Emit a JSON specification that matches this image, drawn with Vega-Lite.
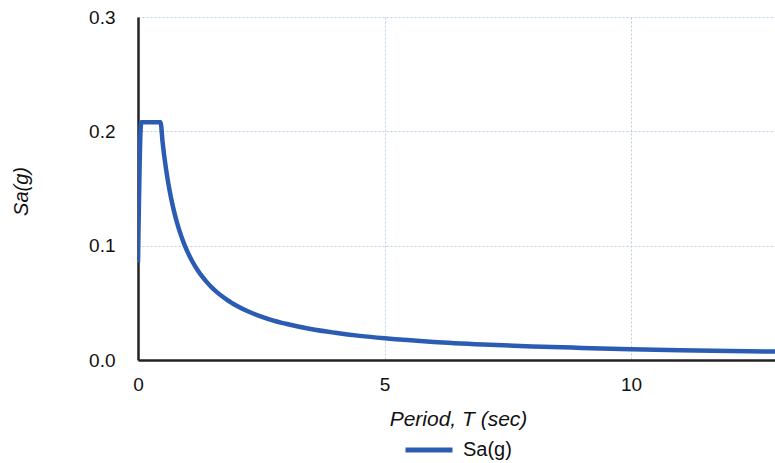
{
  "$schema": "https://vega.github.io/schema/vega-lite/v6.json",
  "width": 637,
  "height": 343,
  "autosize": "none",
  "padding": {"left": 138, "top": 17, "right": 0, "bottom": 103},
  "background": "white",
  "config": {
    "view": {"stroke": null},
    "font": "Liberation Sans"
  },
  "data": {
    "values": [
      {"T": 0.0, "Sa": 0.085},
      {"T": 0.065, "Sa": 0.208},
      {"T": 0.457, "Sa": 0.208},
      {"T": 0.5, "Sa": 0.19},
      {"T": 0.55, "Sa": 0.1727},
      {"T": 0.6, "Sa": 0.1583},
      {"T": 0.65, "Sa": 0.1462},
      {"T": 0.7, "Sa": 0.1357},
      {"T": 0.75, "Sa": 0.1267},
      {"T": 0.8, "Sa": 0.1188},
      {"T": 0.85, "Sa": 0.1118},
      {"T": 0.9, "Sa": 0.1056},
      {"T": 0.95, "Sa": 0.1},
      {"T": 1.0, "Sa": 0.095},
      {"T": 1.1, "Sa": 0.0864},
      {"T": 1.2, "Sa": 0.0792},
      {"T": 1.3, "Sa": 0.0731},
      {"T": 1.4, "Sa": 0.0679},
      {"T": 1.5, "Sa": 0.0633},
      {"T": 1.6, "Sa": 0.0594},
      {"T": 1.7, "Sa": 0.0559},
      {"T": 1.8, "Sa": 0.0528},
      {"T": 1.9, "Sa": 0.05},
      {"T": 2.0, "Sa": 0.0475},
      {"T": 2.25, "Sa": 0.0422},
      {"T": 2.5, "Sa": 0.038},
      {"T": 2.75, "Sa": 0.0345},
      {"T": 3.0, "Sa": 0.0317},
      {"T": 3.5, "Sa": 0.0271},
      {"T": 4.0, "Sa": 0.0238},
      {"T": 4.5, "Sa": 0.0211},
      {"T": 5.0, "Sa": 0.019},
      {"T": 6.0, "Sa": 0.0158},
      {"T": 7.0, "Sa": 0.0136},
      {"T": 8.0, "Sa": 0.0119},
      {"T": 9.0, "Sa": 0.0106},
      {"T": 10.0, "Sa": 0.0095},
      {"T": 11.0, "Sa": 0.0086},
      {"T": 12.0, "Sa": 0.0079},
      {"T": 13.0, "Sa": 0.0073}
    ]
  },
  "mark": {"type": "line", "strokeWidth": 4.5, "clip": true, "interpolate": "monotone"},
  "encoding": {
    "x": {
      "field": "T",
      "type": "quantitative",
      "scale": {"domain": [0, 12.92], "nice": false},
      "axis": {
        "title": "Period, T (sec)",
        "values": [0, 5, 10],
        "format": "d",
        "tickSize": 0,
        "labelFlush": false,
        "labelPadding": 15,
        "labelFontSize": 19,
        "labelColor": "#111",
        "domainColor": "#222",
        "domainWidth": 2.5,
        "gridColor": "#b8cde6",
        "gridDash": [2, 2],
        "gridWidth": 1,
        "titleFontSize": 21,
        "titleFontStyle": "italic",
        "titleFontWeight": "normal",
        "titleColor": "#111",
        "titleBaseline": "alphabetic",
        "titleY": 65,
        "titleX": 320
      }
    },
    "y": {
      "field": "Sa",
      "type": "quantitative",
      "scale": {"domain": [0, 0.3], "nice": false},
      "axis": {
        "title": "Sa(g)",
        "values": [0, 0.1, 0.2, 0.3],
        "format": ".1f",
        "tickSize": 0,
        "labelFlush": false,
        "labelPadding": 23,
        "labelFontSize": 19,
        "labelColor": "#111",
        "domainColor": "#222",
        "domainWidth": 2.5,
        "gridColor": "#b8cde6",
        "gridDash": [2, 2],
        "gridWidth": 1,
        "titleFontSize": 20,
        "titleFontStyle": "italic",
        "titleFontWeight": "normal",
        "titleColor": "#111",
        "titleAngle": -90,
        "titleBaseline": "alphabetic",
        "titleAlign": "center",
        "titleX": -111,
        "titleY": 174
      }
    },
    "color": {
      "datum": "Sa(g)",
      "type": "nominal",
      "scale": {"range": ["#2b5cb4"]},
      "legend": {
        "title": null,
        "orient": "none",
        "legendX": 265,
        "legendY": 407,
        "padding": 0,
        "symbolType": "stroke",
        "symbolSize": 2209,
        "symbolStrokeWidth": 5,
        "labelFontSize": 20,
        "labelColor": "#111",
        "labelOffset": 8
      }
    }
  }
}
